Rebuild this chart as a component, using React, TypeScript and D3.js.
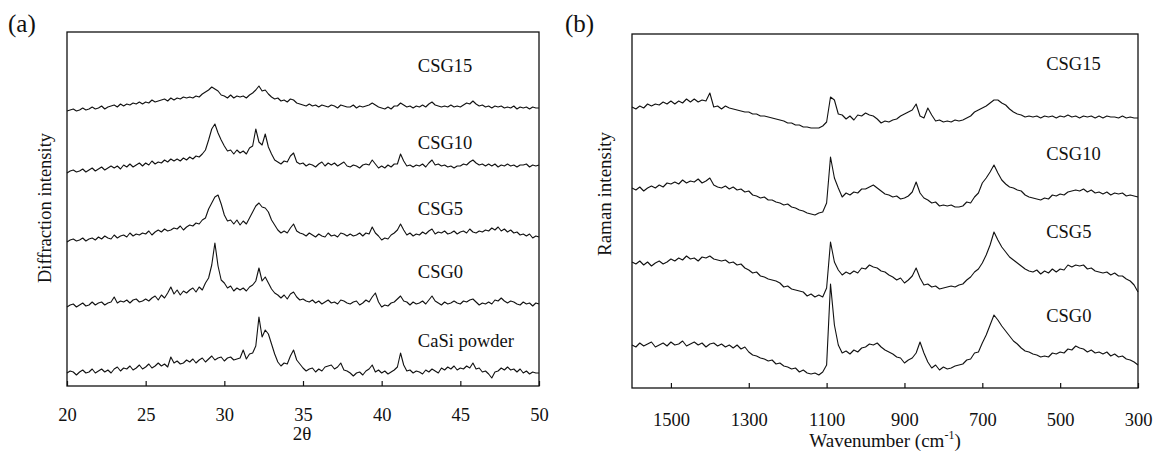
import React, { useEffect, useRef } from 'react';
import * as d3 from 'd3';

// ---- (a) XRD patterns, 2θ from 20 to 50 every 0.2 degrees ----
const twoThetaStart = 20;
const twoThetaStep = 0.2;
const xrdTicks = [20, 25, 30, 35, 40, 45, 50];
const xrdNames = ['CaSi powder', 'CSG0', 'CSG5', 'CSG10', 'CSG15'];
const xrdOffsets = [12, 78, 144, 212, 274];
const xrdLabelAt = [39, 108, 171, 237, 314];

const casiPowder = [
  1, 3, 2, -1, 2, 4, 1, 2, 5, 1, 3, 5, 2, 4, 1, 5, 7, 3, 6, 5,
  8, 4, 6, 9, 5, 7, 10, 6, 8, 11, 8, 10, 7, 17, 11, 13, 10, 11, 14, 12,
  15, 11, 14, 16, 12, 15, 18, 14, 16, 17, 13, 16, 17, 14, 15, 16, 24, 15, 20, 21,
  28, 57, 37, 44, 40, 30, 20, 12, 8, 11, 10, 18, 24, 14, 10, 6, 3, 5, 6, 2,
  5, 3, 7, 8, 9, 5, 7, 11, 4, 3, 1, -2, 1, 2, -1, 3, 5, 9, 2, 4,
  1, 3, 0, 2, 4, 7, 21, 9, 3, 4, 1, 3, 2, 0, 4, 2, 5, 3, 1, 6,
  4, 7, 5, 8, 4, 6, 5, 8, 6, 11, 5, 6, 2, 3, 0, -4, 2, 3, 6, 4,
  7, 4, 5, 2, 5, 1, 3, 0, 2, 1, 1,
];
const csg0Xrd = [
  1, 3, 4, 1, 3, 5, 2, 3, 6, 3, 5, 6, 3, 5, 6, 11, 5, 7, 6, 8,
  5, 8, 9, 6, 7, 9, 7, 10, 12, 8, 13, 10, 15, 21, 14, 18, 13, 17, 15, 18,
  20, 16, 21, 18, 25, 30, 43, 65, 42, 28, 25, 20, 22, 17, 20, 18, 20, 17, 21, 23,
  27, 40, 27, 31, 25, 19, 15, 13, 10, 13, 9, 14, 16, 11, 8, 9, 7, 6, 8, 5,
  7, 4, 6, 8, 5, 6, 4, 8, 7, 5, 4, 6, 7, 3, 5, 8, 6, 11, 15, 6,
  1, 3, 2, 5, 6, 9, 12, 7, 6, 3, 6, 4, 5, 7, 4, 8, 12, 7, 5, 3,
  6, 4, 5, 7, 5, 4, 7, 6, 8, 9, 6, 3, 5, 4, 6, 4, 8, 7, 10, 7,
  5, 7, 6, 4, 3, 6, 4, 5, 2, 5, 4,
];
const csg5Xrd = [
  0, 2, 3, 1, 2, 4, 1, 3, 4, 2, 5, 3, 6, 4, 3, 7, 4, 6, 7, 5,
  9, 6, 8, 7, 9, 8, 11, 7, 10, 12, 10, 13, 11, 12, 14, 13, 16, 12, 15, 17,
  16, 19, 18, 22, 24, 33, 39, 45, 47, 38, 27, 21, 22, 18, 22, 17, 21, 18, 24, 30,
  36, 39, 35, 34, 30, 22, 17, 12, 9, 11, 9, 14, 18, 11, 9, 8, 6, 9, 7, 5,
  8, 6, 5, 9, 6, 7, 5, 9, 8, 6, 8, 6, 7, 9, 6, 9, 8, 15, 9, 6,
  2, 4, 3, 7, 9, 12, 18, 12, 7, 9, 6, 8, 7, 10, 8, 11, 13, 8, 10, 9,
  11, 8, 9, 11, 8, 10, 11, 9, 13, 10, 9, 11, 10, 12, 11, 14, 12, 15, 11, 13,
  10, 12, 9, 10, 7, 8, 6, 8, 4, 6, 5,
];
const csg10Xrd = [
  1, 3, 4, 2, 3, 5, 2, 4, 6, 3, 5, 7, 4, 6, 8, 6, 8, 5, 9, 7,
  10, 7, 9, 11, 8, 11, 9, 13, 10, 12, 11, 14, 12, 15, 13, 15, 13, 16, 14, 17,
  15, 18, 17, 20, 24, 34, 45, 50, 41, 34, 28, 23, 24, 20, 24, 21, 23, 20, 26, 28,
  45, 32, 29, 40, 27, 20, 14, 12, 10, 13, 12, 18, 21, 12, 10, 11, 8, 10, 9, 7,
  10, 12, 8, 11, 9, 11, 8, 10, 12, 8, 7, 9, 8, 6, 9, 10, 9, 14, 10, 6,
  8, 6, 9, 7, 10, 10, 20, 13, 8, 9, 7, 9, 8, 10, 7, 11, 14, 9, 10, 8,
  9, 7, 8, 6, 8, 8, 10, 9, 12, 14, 11, 9, 10, 8, 10, 8, 10, 7, 9, 8,
  10, 8, 9, 7, 9, 9, 10, 7, 9, 8, 9,
];
const csg15Xrd = [
  1, 2, 3, 1, 2, 4, 2, 3, 5, 3, 4, 6, 3, 5, 6, 7, 5, 8, 6, 8,
  7, 9, 8, 10, 8, 10, 9, 12, 10, 11, 12, 13, 11, 14, 12, 14, 13, 15, 14, 15,
  14, 16, 15, 18, 20, 22, 25, 23, 21, 17, 16, 14, 17, 14, 16, 15, 16, 14, 17, 19,
  22, 26, 21, 22, 18, 15, 13, 14, 11, 12, 10, 13, 12, 9, 8, 7, 6, 8, 6, 7,
  5, 7, 6, 5, 7, 6, 4, 7, 6, 5, 5, 7, 4, 6, 5, 6, 7, 9, 7, 5,
  4, 3, 5, 3, 6, 6, 9, 7, 5, 6, 4, 6, 5, 7, 5, 8, 10, 7, 6, 5,
  6, 5, 7, 5, 6, 5, 7, 9, 8, 11, 8, 6, 7, 5, 6, 4, 6, 5, 6, 4,
  5, 4, 6, 3, 5, 4, 5, 3, 5, 4, 4,
];
const xrdSeries = [casiPowder, csg0Xrd, csg5Xrd, csg10Xrd, csg15Xrd];

// ---- (b) Raman spectra, 1600 down to 300 cm-1 every 10 ----
const waveStart = 1600;
const waveStep = -10;
const ramanTicks = [1500, 1300, 1100, 900, 700, 500, 300];
const ramanNames = ['CSG0', 'CSG5', 'CSG10', 'CSG15'];
const ramanOffsets = [40, 120, 195, 270];
const ramanLabelAt = [66, 150, 228, 318];

const csg0Raman = [
  3, 1, 5, 2, 4, 6, 1, 3, 5, 2, 6, 3, 4, 7, 2, 4, 6, 3, 5, 1,
  4, 5, 2, 4, 1, 3, 0, 3, -1, 1, -4, -7, -8, -10, -11, -13, -12, -16, -15, -18,
  -19, -21, -20, -24, -22, -25, -26, -25, -27, -24, -17, 64, 23, 3, -5, -3, -6, -2, -4, 0,
  1, 4, 3, 5, 1, -2, -4, -6, -9, -10, -15, -12, -10, -5, 6, -5, -14, -20, -17, -22,
  -19, -21, -20, -18, -17, -16, -12, -11, -5, -4, 5, 13, 23, 33, 28, 22, 17, 12, 7, 4,
  0, -3, -4, -6, -7, -9, -8, -9, -5, -6, -4, -5, -1, -2, 2, 0, -1, -4, -2, -5,
  -4, -6, -4, -8, -6, -9, -8, -11, -12, -14, -17,
];
const csg5Raman = [
  6, 4, 7, 3, 6, 2, 5, 7, 4, 6, 9, 7, 10, 8, 12, 9, 10, 7, 11, 10,
  12, 9, 8, 7, 8, 5, 6, 3, 4, 0, -2, -5, -4, -8, -9, -11, -12, -13, -15, -19,
  -18, -21, -22, -23, -24, -28, -26, -29, -27, -29, -20, 26, 6, -2, -7, -4, -6, -3, -5, 0,
  -1, 3, 1, 0, -3, -4, -7, -9, -12, -10, -15, -12, -8, 0, -10, -17, -16, -19, -18, -21,
  -20, -19, -18, -19, -17, -16, -12, -9, -4, -1, 5, 13, 23, 36, 28, 21, 16, 11, 8, 5,
  2, -1, -3, -4, -2, -6, -3, -5, -1, -4, -1, -2, 3, 1, 3, 2, 3, -1, 0, -3,
  -4, -5, -4, -7, -5, -8, -8, -11, -13, -17, -24,
];
const csg10Raman = [
  5, 3, 6, 2, 5, 7, 5, 8, 6, 10, 9, 11, 9, 13, 10, 12, 11, 14, 10, 12,
  15, 8, 6, 5, 7, 4, 6, 3, 4, 1, 2, -2, -3, -5, -4, -7, -7, -9, -10, -12,
  -11, -14, -15, -17, -18, -20, -21, -22, -20, -19, -10, 36, 15, 5, -4, 0, -2, 1, 0, 4,
  4, 6, 8, 5, 2, -1, -2, -4, -3, -6, -5, -3, 1, 11, 0, -5, -7, -10, -9, -13,
  -12, -13, -12, -14, -14, -13, -9, -10, -4, 0, 10, 15, 21, 28, 20, 13, 9, 6, 5, 3,
  2, -2, -4, -5, -6, -7, -5, -6, -2, -3, -1, -2, 1, 2, 3, 2, 4, 1, 3, 0,
  1, -1, 1, -2, 0, -1, 0, -3, -2, -3, -4,
];
const csg15Raman = [
  11, 9, 12, 10, 14, 12, 14, 13, 16, 14, 17, 14, 17, 15, 19, 16, 19, 16, 18, 17,
  25, 11, 12, 9, 12, 10, 9, 8, 7, 6, 6, 4, 4, 2, 2, 1, 0, -1, -2, -3,
  -5, -5, -7, -7, -9, -9, -10, -10, -10, -8, -4, 21, 18, 4, 3, -1, 2, -2, 3, 2,
  5, 3, 2, -1, -5, -3, -4, -2, -1, 2, 4, 6, 8, 14, 2, 0, 10, 3, -3, -2,
  -4, -3, -4, -2, -3, -2, 0, 2, 6, 8, 10, 12, 15, 18, 18, 15, 13, 9, 6, 4,
  3, 1, 2, 1, 2, 0, 2, 1, 2, 0, 2, 1, 3, 1, 2, 0, 2, 1, 2, 0,
  2, 0, 2, 1, 1, 0, 2, 0, 1, 0, 0,
];
const ramanSeries = [csg0Raman, csg5Raman, csg10Raman, csg15Raman];

const FONT = "'Liberation Serif', 'Times New Roman', Times, serif";

export default function App() {
  const ref = useRef<SVGSVGElement>(null);

  useEffect(() => {
    const svg = d3.select(ref.current);
    svg.selectAll('*').remove();

    function panel(opts: any) {
      const { box, xDomain, yDomain, ticks, tickPad, series, offsets, start, step,
        names, labelX, labelAt, letter, letterX } = opts;
      const x = d3.scaleLinear().domain(xDomain).range([box.left, box.right]);
      const y = d3.scaleLinear().domain(yDomain).range([box.bottom, box.top]);
      const g = svg.append('g');

      const line = d3.line<number>()
        .x((_, i) => x(start + step * i))
        .y(d => d);
      series.forEach((vals: number[], k: number) => {
        g.append('path')
          .attr('d', line(vals.map(v => y(v + offsets[k]))))
          .attr('fill', 'none')
          .attr('stroke', '#111')
          .attr('stroke-width', 1.1)
          .attr('stroke-linejoin', 'round');
      });

      const axis = d3.axisBottom(x)
        .tickValues(ticks)
        .tickSizeInner(-5)
        .tickSizeOuter(0)
        .tickPadding(tickPad)
        .tickFormat(d3.format('d'));
      g.append('g')
        .attr('transform', `translate(0,${box.bottom})`)
        .call(axis)
        .call(a => a.attr('font-family', null).attr('font-size', null))
        .call(a => a.select('.domain').remove())
        .call(a => a.selectAll('line').attr('stroke', '#111').attr('stroke-width', 1.2))
        .call(a => a.selectAll('text')
          .style('font-family', FONT)
          .style('font-size', '18.5px')
          .attr('fill', '#111'));

      g.append('rect')
        .attr('x', box.left).attr('y', box.top)
        .attr('width', box.right - box.left)
        .attr('height', box.bottom - box.top)
        .attr('fill', 'none')
        .attr('stroke', '#111')
        .attr('stroke-width', 1.3);

      names.forEach((n: string, k: number) => {
        g.append('text')
          .attr('x', x(labelX))
          .attr('y', y(labelAt[k]))
          .style('font-family', FONT)
          .style('font-size', '18.5px')
          .attr('fill', '#111')
          .text(n);
      });

      g.append('text')
        .attr('x', letterX).attr('y', 32)
        .style('font-family', FONT)
        .style('font-size', '25px')
        .attr('fill', '#111')
        .text(letter);
      return g;
    }

    const ga = panel({
      box: { left: 67, right: 539, top: 32, bottom: 386 },
      xDomain: [20, 50], yDomain: [0, 354], ticks: xrdTicks, tickPad: 22,
      series: xrdSeries, offsets: xrdOffsets, start: twoThetaStart, step: twoThetaStep,
      names: xrdNames, labelX: 42.3, labelAt: xrdLabelAt, letter: '(a)', letterX: 8,
    });
    ga.append('text')
      .attr('x', 302).attr('y', 440)
      .attr('text-anchor', 'middle')
      .style('font-family', FONT).style('font-size', '19px').attr('fill', '#111')
      .text('2θ');
    ga.append('text')
      .attr('transform', 'translate(51,208) rotate(-90)')
      .attr('text-anchor', 'middle')
      .style('font-family', FONT).style('font-size', '18.5px').attr('fill', '#111')
      .text('Diffraction intensity');

    const gb = panel({
      box: { left: 632, right: 1138, top: 34, bottom: 388 },
      xDomain: [1600, 300], yDomain: [0, 354], ticks: ramanTicks, tickPad: 25,
      series: ramanSeries, offsets: ramanOffsets, start: waveStart, step: waveStep,
      names: ramanNames, labelX: 536, labelAt: ramanLabelAt, letter: '(b)', letterX: 565,
    });
    const title = gb.append('text')
      .attr('x', 885).attr('y', 447)
      .attr('text-anchor', 'middle')
      .style('font-family', FONT).style('font-size', '19px').attr('fill', '#111');
    title.append('tspan').text('Wavenumber (cm');
    title.append('tspan').style('font-size', '12px').attr('dy', -8).text('-1');
    title.append('tspan').attr('dy', 8).text(')');
    gb.append('text')
      .attr('transform', 'translate(611,194) rotate(-90)')
      .attr('text-anchor', 'middle')
      .style('font-family', FONT).style('font-size', '19px').attr('fill', '#111')
      .text('Raman intensity');
  }, []);

  return (
    <svg ref={ref} width={1161} height={455}
      style={{ position: 'absolute', left: 0, top: 0, background: '#fff' }} />
  );
}
